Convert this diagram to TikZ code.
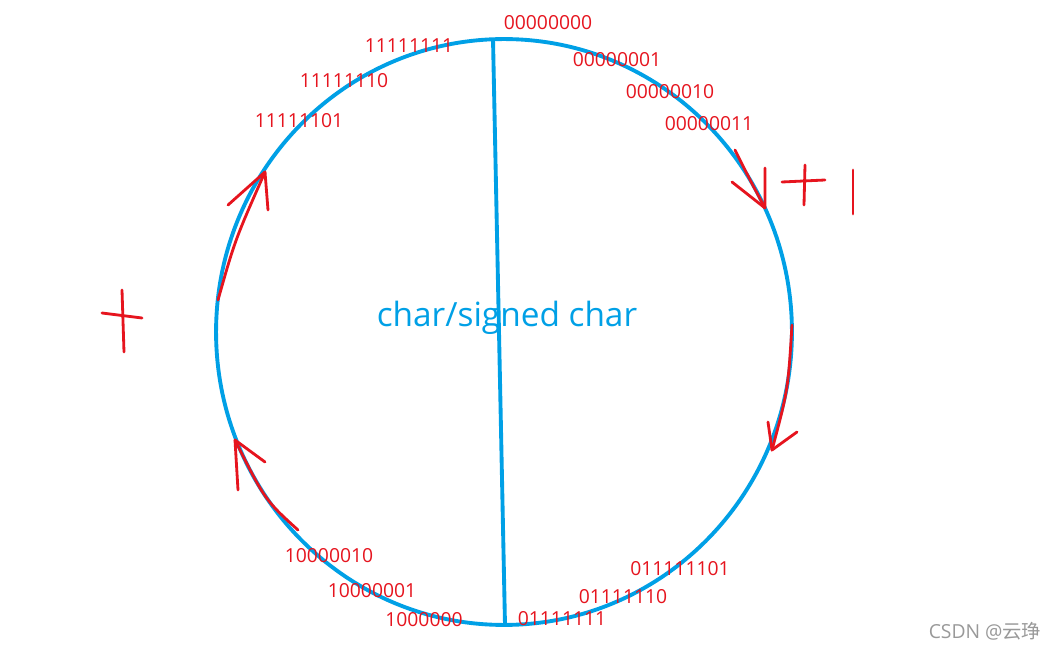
\documentclass[tikz,border=0pt]{standalone}
\usepackage{fontspec}
\usetikzlibrary{shapes.geometric}
\setmainfont{Open Sans}
\newfontfamily\cjk{Noto Sans CJK SC}
\definecolor{myblue}{RGB}{0,160,230}
\definecolor{myred}{RGB}{230,20,30}
\begin{document}
\begin{tikzpicture}[x=0.02cm,y=-0.02cm,
  lbl/.style={text=myred,font=\fontsize{11}{13}\selectfont,inner sep=0},
  blu/.style={draw=myblue,line width=2.2pt},
  pen/.style={draw=myred,line width=1.6pt,line cap=round,line join=round}]
\fill[white] (0,0) rectangle (1055,648);
\path[use as bounding box] (0,0) rectangle (1055,648);
\node[blu,ellipse,minimum width=11.52cm,minimum height=11.72cm,inner sep=0] (c) at (504,332) {};
\coordinate (t) at (493,39); \coordinate (b) at (505,625);
\draw[blu] (t) -- (b);
\node[text=myblue,font=\fontsize{19}{22}\selectfont] (title) at (507,318) {char/signed char};
\node[lbl] (a0) at (548,23) {00000000};
\node[lbl] (a1) at (409,46) {11111111};
\node[lbl] (a2) at (617,60) {00000001};
\node[lbl] (a3) at (344,81) {11111110};
\node[lbl] (a4) at (670,92) {00000010};
\node[lbl] (a5) at (299,121) {11111101};
\node[lbl] (a6) at (709,124) {00000011};
\node[lbl] (a7) at (329,556) {10000010};
\node[lbl] (a8) at (680,569) {011111101};
\node[lbl] (a9) at (372,591) {10000001};
\node[lbl] (a10) at (623,597) {01111110};
\node[lbl] (a11) at (424,620) {1000000};
\node[lbl] (a12) at (562,619) {01111111};
\node[text=gray!80,font=\fontsize{11}{13}\selectfont] (wm) at (985,631) {CSDN @{\cjk 云琤}};
% red hand drawn arrows
\draw[pen] (735,150) .. controls (750,180) .. (765,208);
\draw[pen] (732,182) -- (765,208) -- (765,168);
\draw[pen] (782,182) -- (825,180); \draw[pen] (805,165) -- (804,205);
\draw[pen] (853,170) -- (853,214);
\draw[pen] (102,313) -- (142,318); \draw[pen] (122,290) -- (124,352);
\draw[pen] (792,325) .. controls (788,390) .. (772,450);
\draw[pen] (768,422) -- (772,450) -- (797,432);
\draw[pen] (298,530) .. controls (265,500) .. (235,440);
\draw[pen] (238,490) -- (235,440) -- (265,462);
\draw[pen] (218,300) .. controls (235,240) .. (265,172);
\draw[pen] (228,205) -- (265,172) -- (268,210);
\end{tikzpicture}
\end{document}
